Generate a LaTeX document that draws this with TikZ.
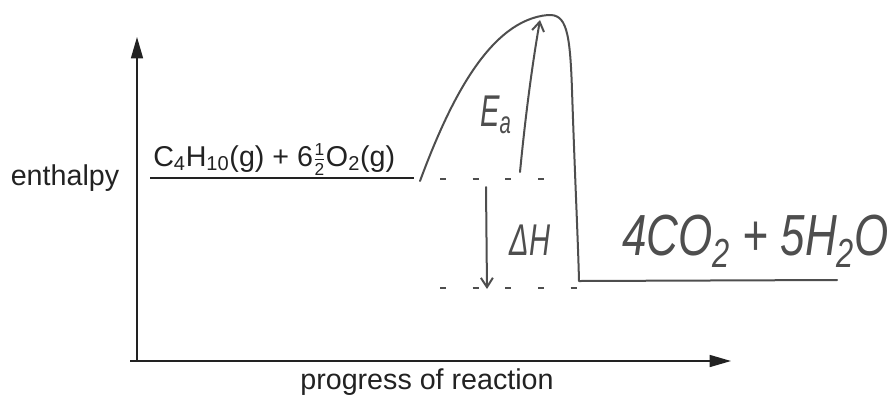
\documentclass[tikz,border=0pt]{standalone}
\usepackage{fontspec}
\usepackage{graphicx}
\setmainfont{Liberation Sans}
\usetikzlibrary{arrows.meta}
\definecolor{pen}{HTML}{4E4E4E}
\definecolor{ink}{HTML}{222222}
\newcommand{\handtxt}[1]{\scalebox{0.95}[1.45]{#1}}
\newcommand{\halfsup}{$\frac{\mbox{\fontsize{13}{13}\selectfont 1}}{\mbox{\fontsize{13}{13}\selectfont 2}}$}
\tikzset{
  axis/.style={draw=ink, line width=1.1pt, -{Triangle[length=16pt,width=9pt]}},
  penline/.style={draw=pen, line width=1.5pt, line cap=round, line join=round},
  penarrow/.style={penline, -{Straight Barb[length=7pt,width=9pt]}},
  dashline/.style={draw=pen, line width=1.2pt, dash pattern=on 4.5pt off 20pt},
  printed/.style={font=\fontsize{21.5}{24}\selectfont, text=ink, inner sep=0pt},
  hand/.style={font=\fontsize{23}{26}\selectfont\itshape, text=pen, inner sep=0pt},
  bighand/.style={font=\fontsize{30}{34}\selectfont\itshape, text=pen, inner sep=0pt}
}
\begin{document}
\begin{tikzpicture}[x=0.75pt,y=-0.75pt]
\useasboundingbox (0,0) rectangle (892,401);
% axes
\coordinate (origin) at (137,361);
\coordinate (ytop) at (137,37);
\coordinate (xend) at (731,361);
\draw[axis] (origin) -- (ytop);
\draw[axis] (130,361) -- (xend);
\node[printed] (ylab) at (65,178) {enthalpy};
\node[printed] (xlab) at (427,382) {progress of reaction};
% reactants
\coordinate (rL) at (150,178);
\coordinate (rR) at (414,178);
\draw[draw=ink, line width=0.9pt] (rL) -- (rR);
\node[printed, anchor=base west] (react) at (153,166) {C\textsubscript{4}H\textsubscript{10}(g) + 6\halfsup O\textsubscript{2}(g)};
% hand-drawn curve
\coordinate (cstart) at (420,181);
\coordinate (pbase) at (579,281);
\coordinate (pend) at (837,280);
\draw[penline] (cstart) .. controls (450,100) and (490,20) .. (548,15)
  .. controls (566,14) and (570,30) .. (572,90)
  .. controls (575,180) and (578,240) .. (pbase) -- (pend);
% dashed levels
\coordinate (d1a) at (440,179);
\coordinate (d1b) at (550,179);
\coordinate (d2a) at (440,288);
\coordinate (d2b) at (580,288);
\draw[dashline] (d1a) -- (d1b);
\draw[dashline] (d2a) -- (d2b);
% Ea arrow
\coordinate (eaA) at (520,172);
\coordinate (eaB) at (540,20);
\draw[penarrow] (eaA) .. controls (526,110) and (533,60) .. (eaB);
\node[hand] (ea) at (496,115) {\handtxt{E\textsubscript{a}}};
% Delta H arrow
\coordinate (dhA) at (486,187);
\coordinate (dhB) at (487,289);
\draw[penarrow] (dhA) -- (dhB);
\node[hand] (dh) at (530,240) {\handtxt{ΔH}};
% products
\node[bighand, anchor=west] (prod) at (622,241) {\scalebox{1.1}[1.45]{4CO\textsubscript{2} + 5H\textsubscript{2}O}};
\end{tikzpicture}
\end{document}
